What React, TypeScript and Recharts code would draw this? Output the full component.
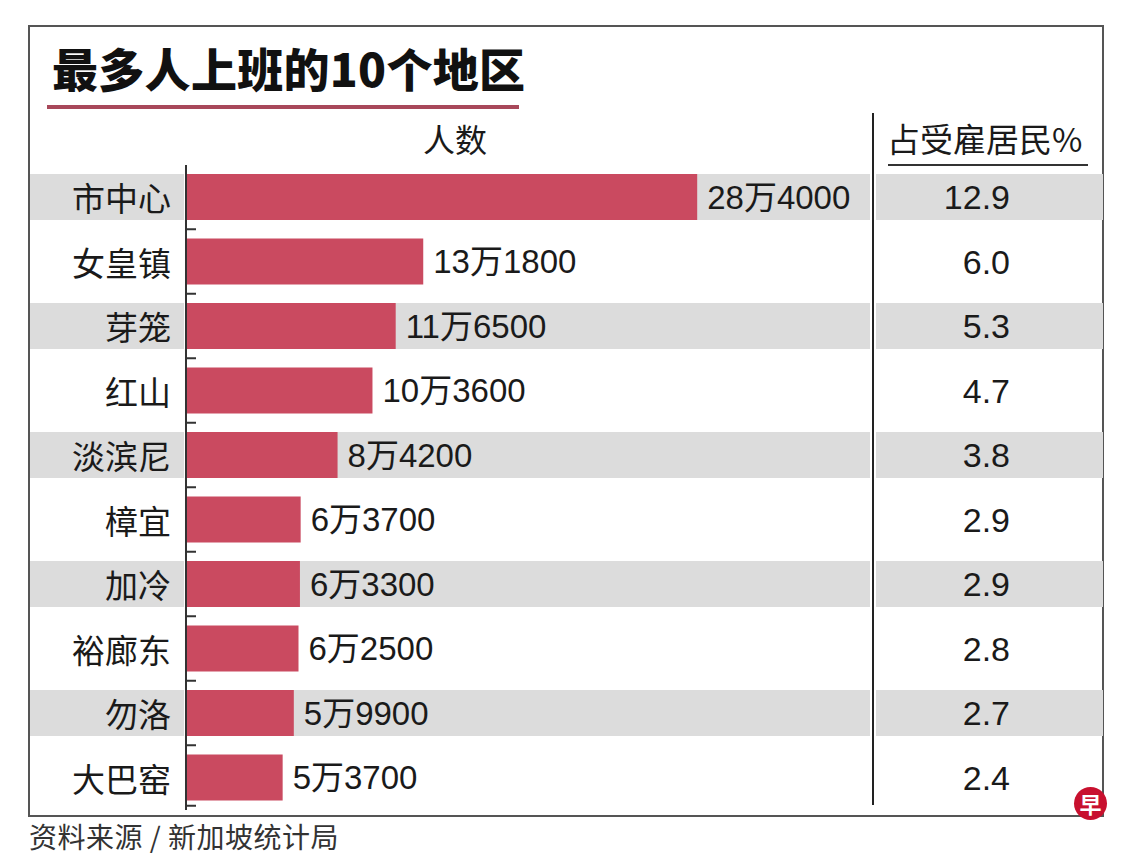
import { BarChart, Bar, XAxis, YAxis, LabelList } from 'recharts'

const regions = ['市中心', '女皇镇', '芽笼', '红山', '淡滨尼', '樟宜', '加冷', '裕廊东', '勿洛', '大巴窑']
const workers = [284000, 131800, 116500, 103600, 84200, 63700, 63300, 62500, 59900, 53700]
const sharePct = [12.9, 6.0, 5.3, 4.7, 3.8, 2.9, 2.9, 2.8, 2.7, 2.4]

const data = regions.map((name, i) => ({ name, workers: workers[i], pct: sharePct[i] }))

const W = 1140
const H = 855
const PLOT_LEFT = 186
const PLOT_RIGHT = 870
const PLOT_TOP = 165
const PLOT_BOTTOM = 810
const ROW_PITCH = (PLOT_BOTTOM - PLOT_TOP) / regions.length

const BAR = '#ca4a60'
const GRAY = '#dcdcdc'
const INK = '#1a1a1a'
const CJK = '"Noto Sans CJK SC", "Noto Sans", sans-serif'
const NUM = '"Liberation Sans", "Noto Sans CJK SC", sans-serif'

const fmtWorkers = (v: number) => `${Math.floor(v / 10000)}万${v % 10000}`

const box = (p: any) => {
  const vb = p.viewBox && p.viewBox.height != null ? p.viewBox : p
  return { x: +vb.x, y: +vb.y, width: +vb.width, height: +vb.height }
}

// alternating grey bands, running across label column, plot and the % column
const RowBand = (props: any) => {
  const { x, y, width, height, index } = props
  if (index % 2 !== 0) return <g />
  return (
    <g>
      <rect x={30} y={y} width={PLOT_LEFT - 32} height={height} fill={GRAY} />
      <rect x={x} y={y} width={width} height={height} fill={GRAY} />
      <rect x={876} y={y} width={227} height={height} fill={GRAY} />
    </g>
  )
}

// row name + the little tick on the axis below each row
const NameLabel = (props: any) => {
  const { y, height } = box(props)
  const cy = y + height / 2
  const tickY = cy + ROW_PITCH / 2 - (props.index === regions.length - 1 ? 4 : 0)
  return (
    <g>
      <text x={PLOT_LEFT - 15} y={cy} textAnchor="end" dominantBaseline="central"
        fontSize={33} fontFamily={CJK} fill={INK}>
        {props.value}
      </text>
      <line x1={PLOT_LEFT - 1} x2={PLOT_LEFT + 10} y1={tickY} y2={tickY} stroke="#333" strokeWidth={2} />
    </g>
  )
}

const ValueLabel = (props: any) => {
  const { x, y, width, height } = box(props)
  return (
    <text x={x + width + 10} y={y + height / 2} textAnchor="start" dominantBaseline="central"
      fontSize={33} fontFamily={NUM} fill={INK}>
      {fmtWorkers(props.value)}
    </text>
  )
}

const PctLabel = (props: any) => {
  const { y, height } = box(props)
  return (
    <text x={1010} y={y + height / 2} textAnchor="end" dominantBaseline="central"
      fontSize={34} fontFamily={NUM} fill={INK}>
      {Number(props.value).toFixed(1)}
    </text>
  )
}

export default function App() {
  return (
    <div style={{ position: 'absolute', left: 0, top: 0, width: W, height: H, background: '#fff' }}>
      {/* frame */}
      <div style={{ position: 'absolute', left: 28, top: 25, width: 1076, height: 792, boxSizing: 'border-box', border: '2px solid #555' }} />

      <div style={{ position: 'absolute', left: 52, top: 44, fontSize: 46, lineHeight: '47px', fontWeight: 900, fontFamily: CJK, color: '#111', whiteSpace: 'nowrap', letterSpacing: 0.3 }}>
        最多人上班的10个地区
      </div>
      <div style={{ position: 'absolute', left: 47, top: 105, width: 472, height: 4, background: '#a8485a' }} />

      <div style={{ position: 'absolute', left: 405, top: 122, width: 100, textAlign: 'center', fontSize: 32, lineHeight: '32px', fontFamily: CJK, color: INK }}>
        人数
      </div>
      <div style={{ position: 'absolute', left: 887, top: 122, fontSize: 33, lineHeight: '33px', fontFamily: CJK, color: INK, whiteSpace: 'nowrap' }}>
        占受雇居民%
      </div>
      <div style={{ position: 'absolute', left: 888, top: 164, width: 200, height: 2, background: '#333' }} />
      {/* column divider */}
      <div style={{ position: 'absolute', left: 872, top: 113, width: 2, height: 692, background: '#222' }} />

      <div style={{ position: 'absolute', left: 0, top: 0 }}>
        <BarChart
          width={W}
          height={H}
          data={data}
          layout="vertical"
          margin={{ top: PLOT_TOP, right: W - PLOT_RIGHT, bottom: H - PLOT_BOTTOM, left: PLOT_LEFT - 150 }}
        >
          <XAxis type="number" orientation="top" domain={[0, 380000]} height={0}
            tick={false} tickLine={false} axisLine={{ stroke: '#333', strokeWidth: 2 }} />
          <YAxis type="category" dataKey="name" width={150} tick={false} tickLine={false}
            axisLine={{ stroke: '#333', strokeWidth: 2 }} />
          <Bar dataKey="workers" fill={BAR} barSize={46} isAnimationActive={false} background={RowBand}>
            <LabelList dataKey="name" content={NameLabel} />
            <LabelList dataKey="workers" content={ValueLabel} />
            <LabelList dataKey="pct" content={PctLabel} />
          </Bar>
        </BarChart>
      </div>

      <div style={{ position: 'absolute', left: 29, top: 822, fontSize: 28, lineHeight: '28px', fontFamily: CJK, color: '#333', whiteSpace: 'nowrap', letterSpacing: 0.5 }}>
        资料来源 / 新加坡统计局
      </div>
      <div style={{ position: 'absolute', left: 1074, top: 787, width: 33, height: 33, borderRadius: '50%', background: '#c8102e', color: '#fff', fontSize: 22, lineHeight: '33px', textAlign: 'center', fontWeight: 700, fontFamily: CJK }}>
        早
      </div>
    </div>
  )
}
